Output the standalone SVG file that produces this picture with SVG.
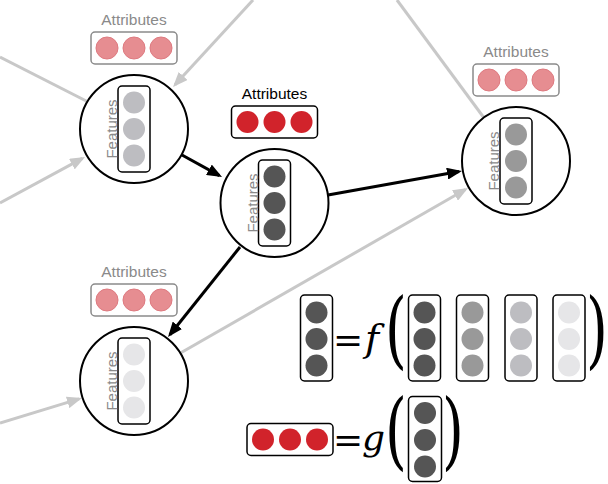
<svg xmlns="http://www.w3.org/2000/svg" width="608" height="484" viewBox="0 0 608 484">
<style>
.lbl{font-family:"Liberation Sans",Arial,sans-serif;font-size:15.5px;text-anchor:middle}
.feat{font-family:"Liberation Sans",Arial,sans-serif;font-size:15px;fill:#8a8a8a;text-anchor:middle}
.ring{fill:#fff;stroke:#000;stroke-width:2}
.fbox{fill:#fff;stroke:#000;stroke-width:1.5}
.abox{fill:#fff;stroke:#8a8a8a;stroke-width:1.5}
.aboxk{fill:#fff;stroke:#000;stroke-width:1.5}
.pale{fill:#e68d91;stroke:#de7a80;stroke-width:1}
.red{fill:#d1232b}
.c1{fill:#555555}.c2{fill:#999999}.c3{fill:#bdbdc1}.c4{fill:#e6e6e8}
.gl{stroke:#c8c8c8;stroke-width:3;fill:none}
.bl{stroke:#000;stroke-width:3;fill:none}
.eq{font-family:"DejaVu Serif",serif;font-size:36px}
.fn{font-family:"DejaVu Serif",serif;font-size:38px;font-style:italic}
.par{font-family:"DejaVu Serif",serif;font-size:80px}
</style>
<defs>
<marker id="ab" markerUnits="userSpaceOnUse" markerWidth="16" markerHeight="12" refX="12" refY="6" orient="auto"><path d="M0,0 L15,6 L0,12 z" fill="#000"/></marker>
<marker id="ag" markerUnits="userSpaceOnUse" markerWidth="16" markerHeight="12" refX="12" refY="6" orient="auto"><path d="M0,0 L15,6 L0,12 z" fill="#c8c8c8"/></marker>
</defs>
<g id="connectors">
<line class="gl" x1="0" y1="57" x2="100" y2="108"/>
<line class="gl" x1="253" y1="0" x2="175" y2="84.8" marker-end="url(#ag)"/>
<line class="gl" x1="0" y1="203" x2="82.4" y2="158.4" marker-end="url(#ag)"/>
<line class="gl" x1="397" y1="0" x2="490" y2="126"/>
<line class="gl" x1="170" y1="359" x2="465.4" y2="189.5" marker-end="url(#ag)"/>
<line class="gl" x1="0" y1="423" x2="79.1" y2="398.9" marker-end="url(#ag)"/>
<line class="bl" x1="182" y1="155" x2="219.4" y2="175.6" marker-end="url(#ab)"/>
<line class="bl" x1="328" y1="195" x2="459" y2="171.5" marker-end="url(#ab)"/>
<line class="bl" x1="240" y1="247" x2="169.9" y2="334.7" marker-end="url(#ab)"/>
</g>
<g id="node-topleft">
<text class="lbl" x="134" y="25" fill="#8a8a8a">Attributes</text>
<rect class="abox" x="91" y="32" width="86" height="32" rx="4"/>
<circle class="pale" cx="107" cy="48" r="11"/><circle class="pale" cx="134" cy="48" r="11"/><circle class="pale" cx="161" cy="48" r="11"/>
<circle class="ring" cx="134" cy="129" r="54"/>
<rect class="fbox" x="118" y="86" width="32" height="86" rx="4"/>
<circle class="c3" cx="134" cy="102.5" r="11"/><circle class="c3" cx="134" cy="129" r="11"/><circle class="c3" cx="134" cy="155.5" r="11"/>
<text class="feat" transform="translate(117,129) rotate(-90)">Features</text>
</g>
<g id="node-center">
<text class="lbl" x="274.5" y="99" fill="#000">Attributes</text>
<rect class="aboxk" x="231.5" y="106" width="86" height="32" rx="4"/>
<circle class="red" cx="247.5" cy="122" r="11"/><circle class="red" cx="274.5" cy="122" r="11"/><circle class="red" cx="301.5" cy="122" r="11"/>
<circle class="ring" cx="274.5" cy="203" r="54"/>
<rect class="fbox" x="258.5" y="160" width="32" height="86" rx="4"/>
<circle class="c1" cx="274.5" cy="176.5" r="11"/><circle class="c1" cx="274.5" cy="203" r="11"/><circle class="c1" cx="274.5" cy="229.5" r="11"/>
<text class="feat" transform="translate(257.5,203) rotate(-90)">Features</text>
</g>
<g id="node-right">
<text class="lbl" x="516" y="57" fill="#8a8a8a">Attributes</text>
<rect class="abox" x="473" y="64" width="86" height="32" rx="4"/>
<circle class="pale" cx="489" cy="80" r="11"/><circle class="pale" cx="516" cy="80" r="11"/><circle class="pale" cx="543" cy="80" r="11"/>
<circle class="ring" cx="516" cy="161" r="54"/>
<rect class="fbox" x="500" y="118" width="32" height="86" rx="4"/>
<circle class="c2" cx="516" cy="134.5" r="11"/><circle class="c2" cx="516" cy="161" r="11"/><circle class="c2" cx="516" cy="187.5" r="11"/>
<text class="feat" transform="translate(499,161) rotate(-90)">Features</text>
</g>
<g id="node-bottomleft">
<text class="lbl" x="134" y="277" fill="#8a8a8a">Attributes</text>
<rect class="abox" x="91" y="284" width="86" height="32" rx="4"/>
<circle class="pale" cx="107" cy="300" r="11"/><circle class="pale" cx="134" cy="300" r="11"/><circle class="pale" cx="161" cy="300" r="11"/>
<circle class="ring" cx="134" cy="381" r="54"/>
<rect class="fbox" x="118" y="338" width="32" height="86" rx="4"/>
<circle class="c4" cx="134" cy="354.5" r="11"/><circle class="c4" cx="134" cy="381" r="11"/><circle class="c4" cx="134" cy="407.5" r="11"/>
<text class="feat" transform="translate(117,381) rotate(-90)">Features</text>
</g>
<g id="equation-f">
<rect class="fbox" x="300.5" y="295" width="32" height="86" rx="4"/>
<circle class="c1" cx="316.5" cy="312.5" r="11"/><circle class="c1" cx="316.5" cy="339" r="11"/><circle class="c1" cx="316.5" cy="365.5" r="11"/>
<text class="eq" x="333" y="352">=</text>
<text class="fn" x="365" y="351">f</text>
<text class="par" transform="translate(385,358) scale(0.7,1.05)">(</text>
<rect class="fbox" x="408.5" y="295" width="32" height="86" rx="4"/>
<circle class="c1" cx="424.5" cy="312.5" r="11"/><circle class="c1" cx="424.5" cy="339" r="11"/><circle class="c1" cx="424.5" cy="365.5" r="11"/>
<rect class="fbox" x="456.5" y="295" width="32" height="86" rx="4"/>
<circle class="c2" cx="472.5" cy="312.5" r="11"/><circle class="c2" cx="472.5" cy="339" r="11"/><circle class="c2" cx="472.5" cy="365.5" r="11"/>
<rect class="fbox" x="505" y="295" width="32" height="86" rx="4"/>
<circle class="c3" cx="521" cy="312.5" r="11"/><circle class="c3" cx="521" cy="339" r="11"/><circle class="c3" cx="521" cy="365.5" r="11"/>
<rect class="fbox" x="553" y="295" width="32" height="86" rx="4"/>
<circle class="c4" cx="569" cy="312.5" r="11"/><circle class="c4" cx="569" cy="339" r="11"/><circle class="c4" cx="569" cy="365.5" r="11"/>
<text class="par" transform="translate(586,358) scale(0.7,1.05)">)</text>
</g>
<g id="equation-g">
<rect class="aboxk" x="247" y="423.5" width="86" height="32" rx="4"/>
<circle class="red" cx="263" cy="439.5" r="11"/><circle class="red" cx="290" cy="439.5" r="11"/><circle class="red" cx="317" cy="439.5" r="11"/>
<text class="eq" x="333" y="452">=</text>
<text class="fn" x="362" y="450" style="font-size:36px">g</text>
<text class="par" transform="translate(385,459) scale(0.7,1.05)">(</text>
<rect class="fbox" x="408.5" y="396.5" width="33" height="85" rx="4"/>
<circle class="c1" cx="425" cy="413" r="11"/><circle class="c1" cx="425" cy="440" r="11"/><circle class="c1" cx="425" cy="466.5" r="11"/>
<text class="par" transform="translate(442,459) scale(0.7,1.05)">)</text>
</g>
</svg>
